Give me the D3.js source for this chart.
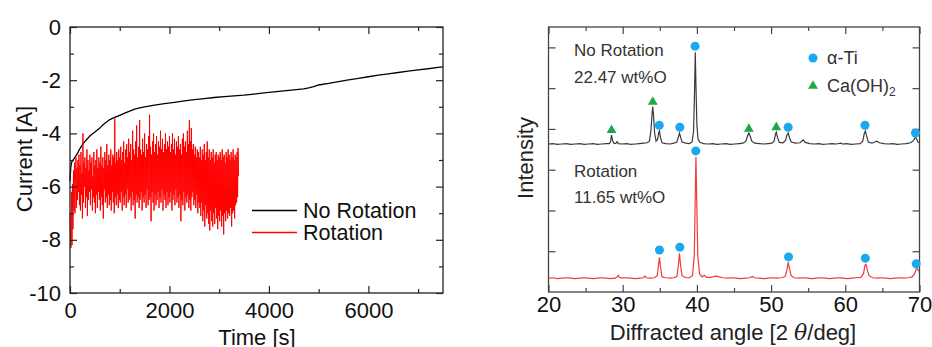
<!DOCTYPE html>
<html>
<head>
<meta charset="utf-8">
<script src="https://cdn.jsdelivr.net/npm/d3@7"></script>
<style>
  body { margin: 0; background: #fff; }
  svg { display: block; }
  text { font-family: "Liberation Sans", Arial, sans-serif; }
</style>
</head>
<body>
<svg id="chart" width="932" height="347"></svg>
<script>
// ---- left panel: current vs time ----
const noRotTime = [0, 15, 30, 60, 100, 150, 200, 250, 300, 350, 400, 450, 500, 550, 600, 650, 700, 750, 800, 900,
  1000, 1100, 1200, 1300, 1400, 1500, 1700, 1900, 2100, 2300, 2500, 2700, 2900, 3100, 3300, 3500, 3700, 3900,
  4100, 4300, 4500, 4700, 4800, 4900, 5000, 5200, 5400, 5600, 5800, 6000, 6200, 6400, 6600, 6800, 7000, 7200, 7400, 7500];
const noRotCurrent = [-5.8, -5.3, -5.1, -5.0, -4.9, -4.75, -4.57, -4.42, -4.3, -4.2, -4.1, -4.02, -3.95, -3.87, -3.8, -3.7, -3.62, -3.55, -3.48, -3.4,
  -3.32, -3.24, -3.16, -3.09, -3.04, -3.0, -2.94, -2.88, -2.83, -2.78, -2.73, -2.69, -2.65, -2.62, -2.59, -2.56, -2.52, -2.48,
  -2.44, -2.4, -2.36, -2.33, -2.29, -2.24, -2.18, -2.12, -2.05, -1.99, -1.93, -1.87, -1.81, -1.76, -1.71, -1.66, -1.61, -1.57, -1.52, -1.5];

// rotation run, sampled every 10 s
const rotStep = 10;
const rotCurrent = [
  -7.0, -7.9, -8.3, -6.2, -8.2, -5.9, -7.6, -5.4, -6.9, -5.1, -7.0, -5.6, -4.9, -6.8, -5.3, -6.5, -5.0, -6.2, -4.8, -6.7,
  -5.2, -6.9, -4.7, -6.3, -5.5, -7.2, -4.0, -6.6, -5.1, -6.0, -4.9, -6.8, -5.3, -6.4, -4.6, -7.1, -5.0, -6.5, -5.4, -6.2,
  -4.8, -6.7, -5.1, -6.1, -4.9, -6.9, -5.6, -6.4, -4.7, -6.6, -5.2, -7.0, -5.0, -6.3, -4.6, -6.8, -5.3, -6.2, -4.9, -6.5,
  -5.1, -6.9, -4.5, -6.4, -5.2, -6.7, -4.9, -7.2, -5.3, -6.1, -4.7, -6.6, -5.0, -6.4, -4.4, -6.8, -5.2, -6.3, -4.8, -6.7,
  -5.0, -6.5, -4.6, -6.9, -5.2, -6.2, -4.8, -6.6, -4.9, -7.0, -3.45, -6.4, -5.1, -6.7, -4.7, -6.3, -5.0, -6.8, -4.6, -6.5,
  -4.9, -6.6, -4.5, -6.2, -5.0, -6.9, -4.7, -6.4, -4.3, -6.7, -5.1, -6.3, -4.6, -6.8, -4.4, -6.1, -4.9, -6.6, -4.2, -6.5,
  -4.7, -6.4, -4.4, -6.9, -5.0, -6.2, -3.9, -6.7, -4.6, -6.5, -4.8, -7.2, -4.3, -6.3, -3.7, -6.6, -4.9, -6.4, -4.5, -6.8,
  -3.5, -6.5, -4.6, -6.2, -4.8, -6.9, -4.2, -6.4, -4.7, -6.6, -4.0, -6.3, -4.9, -6.8, -4.4, -6.1, -4.6, -6.7, -4.1, -6.5,
  -3.3, -6.4, -4.5, -7.3, -4.8, -6.2, -4.3, -6.6, -4.0, -6.9, -4.7, -6.3, -4.4, -6.7, -4.1, -6.5, -4.8, -6.2, -4.3, -6.8,
  -4.5, -6.4, -3.9, -6.6, -4.6, -6.1, -4.2, -6.9, -4.7, -6.3, -4.4, -6.5, -4.0, -6.8, -4.6, -6.2, -4.3, -6.7, -4.5, -6.4,
  -4.1, -6.6, -4.7, -6.2, -4.4, -6.9, -4.0, -6.5, -4.6, -6.3, -4.2, -6.7, -4.8, -6.1, -4.3, -6.6, -4.5, -6.4, -4.1, -6.8,
  -4.6, -6.3, -4.4, -7.3, -4.8, -6.5, -4.2, -6.7, -4.0, -6.2, -4.5, -6.9, -4.3, -6.4, -4.7, -6.6, -3.9, -6.3, -4.4, -6.8,
  -3.5, -6.5, -4.3, -6.9, -3.8, -6.4, -4.6, -6.2, -4.4, -6.7, -4.8, -6.5, -4.5, -6.8, -4.9, -6.3, -4.6, -7.0, -4.7, -6.6,
  -4.9, -6.8, -4.5, -7.1, -5.0, -6.6, -4.6, -7.3, -4.8, -6.9, -4.4, -7.5, -5.0, -6.7, -4.7, -7.2, -4.3, -7.0, -4.9, -7.4,
  -4.6, -7.65, -5.0, -6.9, -4.7, -7.3, -4.9, -7.5, -4.6, -7.0, -5.1, -7.4, -4.8, -6.8, -4.7, -7.2, -5.0, -7.6, -4.8, -7.1,
  -4.9, -7.3, -4.7, -6.9, -5.0, -7.5, -4.6, -7.1, -4.9, -7.8, -4.8, -7.0, -5.1, -7.3, -4.7, -6.9, -4.9, -7.2, -4.6, -7.0,
  -4.8, -7.1, -5.0, -6.8, -4.7, -7.5, -4.9, -7.0, -4.6, -6.9, -5.0, -7.2, -4.8, -6.7, -4.9, -6.6, -4.7, -6.4, -4.55, -5.6
];
const timeTicks = [0, 2000, 4000, 6000];
const timeMinor = [1000, 3000, 5000, 7000];
const currentTicks = [0, -2, -4, -6, -8, -10];
const currentMinor = [-1, -3, -5, -7, -9];

// ---- right panel: XRD patterns [2theta, intensity] ----
const xrdNoRot = [
  [20,3.63],[20.6,3.64],[21.2,3.62],[21.8,3.63],[22.4,3.64],[23.0,3.62],[23.6,3.63],[24.2,3.64],[24.8,3.62],[25.4,3.63],[26.0,3.64],[26.6,3.62],[27.2,3.63],[27.8,3.64],[28.2,3.64],
  [28.35,3.68],[28.5,3.85],[28.65,3.70],[28.85,3.64],[29.1,3.65],[29.25,3.69],[29.4,3.64],[29.9,3.63],[30.5,3.64],[31.1,3.62],[31.7,3.63],[32.3,3.64],[32.8,3.65],[33.3,3.66],[33.6,3.70],
  [33.8,3.95],[33.95,4.35],[34.05,4.54],[34.15,4.35],[34.3,3.90],[34.5,3.70],[34.7,3.74],[34.85,3.90],[34.95,3.95],[35.1,3.78],[35.3,3.66],[35.8,3.64],[36.4,3.63],[36.9,3.65],[37.3,3.68],
  [37.5,3.80],[37.65,3.90],[37.8,3.80],[38.0,3.68],[38.5,3.65],[39.0,3.64],[39.35,3.68],[39.55,3.95],[39.68,4.9],[39.78,5.88],[39.88,5.0],[40.0,4.1],[40.15,3.75],[40.4,3.67],[40.9,3.64],
  [41.5,3.63],[42.1,3.64],[42.7,3.62],[43.3,3.63],[43.9,3.64],[44.5,3.62],[45.1,3.63],[45.7,3.64],[46.2,3.65],[46.6,3.70],[46.85,3.84],[47.0,3.90],[47.15,3.84],[47.4,3.70],[47.8,3.65],
  [48.4,3.64],[49.0,3.63],[49.6,3.64],[50.1,3.65],[50.4,3.70],[50.6,3.88],[50.7,3.92],[50.85,3.80],[51.1,3.67],[51.6,3.66],[51.95,3.72],[52.15,3.86],[52.3,3.90],[52.45,3.80],[52.7,3.68],
  [53.3,3.65],[53.9,3.66],[54.2,3.71],[54.35,3.73],[54.6,3.67],[55.2,3.64],[55.8,3.63],[56.4,3.64],[57.0,3.62],[57.6,3.63],[58.2,3.64],[58.8,3.63],[59.4,3.65],[59.6,3.63],[60.2,3.64],
  [60.8,3.62],[61.4,3.63],[62.0,3.64],[62.35,3.70],[62.55,3.88],[62.7,3.95],[62.85,3.84],[63.1,3.68],[63.6,3.65],[64.0,3.68],[64.25,3.70],[64.6,3.66],[65.2,3.64],[65.8,3.63],[66.4,3.64],
  [67.0,3.62],[67.6,3.63],[68.2,3.64],[68.8,3.66],[69.2,3.72],[69.45,3.80],[69.6,3.76],[69.8,3.68],[70,3.66]
];
const xrdRot = [
  [20,0.34],[20.6,0.35],[21.2,0.33],[21.8,0.34],[22.4,0.35],[23.0,0.34],[23.6,0.33],[24.2,0.34],[24.8,0.35],[25.4,0.34],[26.0,0.33],[26.6,0.34],[27.2,0.35],[27.8,0.34],[28.4,0.33],
  [29.0,0.34],[29.25,0.37],[29.4,0.41],[29.55,0.36],[29.9,0.34],[30.5,0.35],[31.1,0.34],[31.7,0.33],[32.3,0.34],[32.8,0.35],[33.0,0.39],[33.2,0.35],[33.7,0.34],[34.3,0.35],[34.65,0.40],
  [34.85,0.70],[34.95,0.85],[35.1,0.60],[35.3,0.37],[35.8,0.35],[36.4,0.34],[36.9,0.35],[37.3,0.38],[37.5,0.65],[37.65,0.95],[37.8,0.65],[38.0,0.40],[38.5,0.35],[39.0,0.35],[39.4,0.40],
  [39.65,0.90],[39.78,2.4],[39.87,3.31],[39.97,2.3],[40.12,0.90],[40.35,0.45],[40.7,0.37],[41.0,0.41],[41.3,0.36],[41.9,0.36],[42.3,0.38],[42.6,0.39],[43.0,0.37],[43.5,0.35],[44.1,0.34],
  [44.7,0.35],[45.3,0.34],[45.9,0.33],[46.5,0.34],[47.1,0.35],[47.5,0.38],[47.8,0.35],[48.4,0.34],[49.0,0.33],[49.6,0.34],[50.2,0.35],[50.8,0.34],[51.4,0.35],[51.9,0.38],[52.15,0.55],
  [52.3,0.73],[52.45,0.60],[52.7,0.40],[53.1,0.35],[53.7,0.34],[54.3,0.35],[54.9,0.34],[55.5,0.33],[56.1,0.34],[56.7,0.35],[57.3,0.34],[57.9,0.33],[58.5,0.34],[59.1,0.35],[59.7,0.34],
  [60.3,0.33],[60.9,0.34],[61.5,0.35],[62.1,0.36],[62.45,0.45],[62.65,0.66],[62.8,0.68],[62.95,0.55],[63.2,0.40],[63.7,0.35],[64.3,0.34],[64.9,0.35],[65.5,0.34],[66.1,0.33],[66.7,0.34],
  [67.3,0.35],[67.9,0.34],[68.5,0.35],[69.0,0.37],[69.35,0.45],[69.6,0.58],[69.8,0.55],[70,0.50]
];
// phase markers [2theta, marker height]
const tiNoRot = [[34.93,4.09],[37.7,4.04],[39.75,6.03],[52.3,4.04],[62.65,4.09],[69.45,3.90]];
const caNoRot = [[28.5,3.97],[34.05,4.66],[47.0,4.0],[50.7,4.04]];
const tiRot = [[34.95,1.03],[37.7,1.10],[39.85,3.46],[52.35,0.86],[62.7,0.83],[69.55,0.69]];
const angleTicks = [20, 30, 40, 50, 60, 70];
const angleMinor = [25, 35, 45, 55, 65];
const intensityTicks = [1, 2, 3, 4, 5, 6];

const svg = d3.select('#chart');
const blue = '#1aa9ee', green = '#1ea84a';
const FONT = '"Liberation Sans", Arial, sans-serif';

// inward ticks on all four sides, plus the box
function frame(g, x, y, xMajor, xMinor, yMajor, yMinor, xFmt, yFmt, xPad, yPad, col) {
  const [x0, x1] = x.range(), [y0, y1] = y.range();
  const add = (axis, tx, ty) => {
    const a = g.append('g').attr('transform', `translate(${tx},${ty})`).call(axis);
    a.attr('font-family', FONT);
    a.select('.domain').remove();
    a.selectAll('line').attr('stroke', col).attr('stroke-width', 1.2);
    a.selectAll('text').attr('fill', '#111').attr('font-size', 22);
    return a;
  };
  add(d3.axisBottom(x).tickValues(xMajor).tickSize(-7).tickPadding(xPad).tickFormat(xFmt), 0, y0);
  add(d3.axisBottom(x).tickValues(xMinor).tickSize(-4).tickFormat(''), 0, y0);
  add(d3.axisTop(x).tickValues(xMajor).tickSize(-7).tickFormat(''), 0, y1);
  add(d3.axisTop(x).tickValues(xMinor).tickSize(-4).tickFormat(''), 0, y1);
  add(d3.axisLeft(y).tickValues(yMajor).tickSize(-7).tickPadding(yPad).tickFormat(yFmt), x0, 0);
  add(d3.axisRight(y).tickValues(yMajor).tickSize(-7).tickFormat(''), x1, 0);
  if (yMinor.length) {
    add(d3.axisLeft(y).tickValues(yMinor).tickSize(-4).tickFormat(''), x0, 0);
    add(d3.axisRight(y).tickValues(yMinor).tickSize(-4).tickFormat(''), x1, 0);
  }
  g.append('rect').attr('x', x0).attr('y', y1).attr('width', x1 - x0).attr('height', y0 - y1)
    .attr('fill', 'none').attr('stroke', col).attr('stroke-width', 1.3);
}

// ---------- left chart ----------
const xL = d3.scaleLinear().domain([0, 7500]).range([70, 443]);
const yL = d3.scaleLinear().domain([-10, 0]).range([293, 27]);
const gL = svg.append('g');
const lineL = d3.line().x(d => xL(d[0])).y(d => yL(d[1]));

gL.append('path').datum(noRotTime.map((t, i) => [t, noRotCurrent[i]]))
  .attr('fill', 'none').attr('stroke', '#000').attr('stroke-width', 1.3).attr('d', lineL);
gL.append('path').datum(rotCurrent.map((c, i) => [i * rotStep, c]))
  .attr('fill', 'none').attr('stroke', '#ff0000').attr('stroke-width', 1).attr('d', lineL);

frame(gL, xL, yL, timeTicks, timeMinor, currentTicks, currentMinor,
  d => String(d), d => String(d), 9, 9, '#222');

gL.append('text').attr('transform', 'translate(32,159) rotate(-90)').attr('text-anchor', 'middle')
  .attr('font-size', 22).attr('fill', '#111').text('Current [A]');
gL.append('text').attr('x', 257).attr('y', 345).attr('text-anchor', 'middle')
  .attr('font-size', 22).attr('fill', '#111').text('Time [s]');

const legL = [['No Rotation', '#000', 210.5], ['Rotation', '#ff0000', 232.5]];
legL.forEach(([name, col, y]) => {
  gL.append('line').attr('x1', 252).attr('x2', 297).attr('y1', y).attr('y2', y)
    .attr('stroke', col).attr('stroke-width', 1.3);
  gL.append('text').attr('x', 303).attr('y', y + 7.5).attr('font-size', 21.5).attr('fill', '#111').text(name);
});

// ---------- right chart ----------
const xR = d3.scaleLinear().domain([20, 70]).range([548.5, 919.5]);
const yR = d3.scaleLinear().domain([0, 6.5]).range([292, 27]);
const gR = svg.append('g');
const lineR = d3.line().x(d => xR(d[0])).y(d => yR(d[1]));

gR.append('path').datum(xrdNoRot).attr('fill', 'none').attr('stroke', '#3a3a3a').attr('stroke-width', 1.2).attr('d', lineR);
gR.append('path').datum(xrdRot).attr('fill', 'none').attr('stroke', '#f03a3a').attr('stroke-width', 1.2).attr('d', lineR);

frame(gR, xR, yR, angleTicks, angleMinor, intensityTicks, [],
  d => String(d), () => '', 4, 3, '#444');

const tri = d3.symbol().type(d3.symbolTriangle).size(42);
gR.selectAll('.ti').data(tiNoRot.concat(tiRot)).join('circle')
  .attr('cx', d => xR(d[0])).attr('cy', d => yR(d[1])).attr('r', 4.5).attr('fill', blue);
gR.selectAll('.ca').data(caNoRot).join('path')
  .attr('d', tri).attr('fill', green)
  .attr('transform', d => `translate(${xR(d[0])},${yR(d[1])})`);

const notes = [['No Rotation', 56], ['22.47 wt%O', 83], ['Rotation', 177], ['11.65 wt%O', 203]];
notes.forEach(([t, y]) => {
  gR.append('text').attr('x', 574).attr('y', y).attr('font-size', 17).attr('fill', '#333').text(t);
});

// legend
gR.append('circle').attr('cx', 813).attr('cy', 58).attr('r', 4.5).attr('fill', blue);
gR.append('text').attr('x', 827).attr('y', 64).attr('font-size', 18).attr('fill', '#333').text('α-Ti');
gR.append('path').attr('d', tri).attr('fill', green).attr('transform', 'translate(813,86)');
const caTxt = gR.append('text').attr('x', 827).attr('y', 92).attr('font-size', 18).attr('fill', '#333');
caTxt.append('tspan').text('Ca(OH)');
caTxt.append('tspan').attr('dy', 4).attr('font-size', 12).text('2');

gR.append('text').attr('transform', 'translate(533,158) rotate(-90)').attr('text-anchor', 'middle')
  .attr('font-size', 22).attr('fill', '#222').text('Intensity');
const xt = gR.append('text').attr('x', 733).attr('y', 340).attr('text-anchor', 'middle')
  .attr('font-size', 22).attr('fill', '#222');
xt.append('tspan').text('Diffracted angle [2 ');
xt.append('tspan').attr('font-family', '"DejaVu Serif", serif').attr('font-style', 'italic').text('θ');
xt.append('tspan').text('/deg]');
</script>
</body>
</html>
